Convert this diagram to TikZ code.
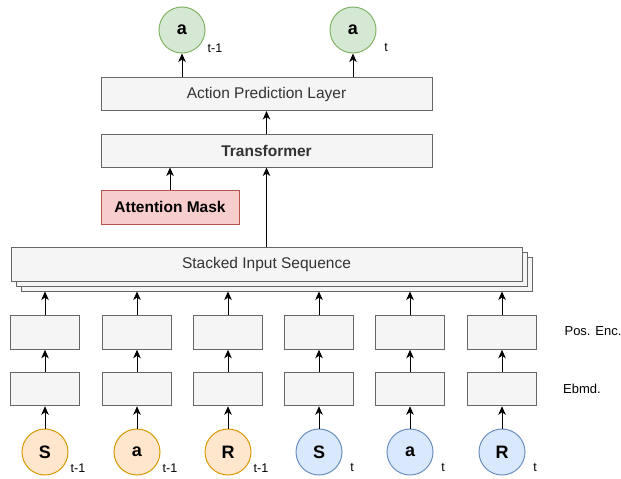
\documentclass[tikz,border=0pt]{standalone}
\usepackage{fontspec}
\setmainfont{Liberation Sans}
\usetikzlibrary{arrows.meta,positioning,shadows}
\definecolor{gfill}{HTML}{F5F5F5}
\definecolor{gline}{HTML}{666666}
\definecolor{gtext}{HTML}{333333}
\definecolor{rfill}{HTML}{F8CECC}
\definecolor{rline}{HTML}{B85450}
\definecolor{tfill}{HTML}{D5E8D4}
\definecolor{tline}{HTML}{82B366}
\definecolor{ofill}{HTML}{FFE6CC}
\definecolor{oline}{HTML}{D79B00}
\definecolor{bfill}{HTML}{DAE8FC}
\definecolor{bline}{HTML}{6C8EBF}
\begin{document}
\begin{tikzpicture}[x=1pt,y=-1pt,
 layer/.style={draw=gline,fill=gfill,text=gtext,line width=1pt,minimum height=33pt,inner sep=0pt,font=\fontsize{15.5}{18}\selectfont},
 boldtxt/.style={font=\fontsize{15.5}{18}\selectfont\bfseries},
 cell/.style={draw=gline,fill=gfill,line width=1pt,minimum width=69pt,minimum height=33.5pt,inner sep=0pt},
 tok/.style={circle,line width=1pt,minimum size=46pt,inner sep=0pt,font=\fontsize{18}{21}\selectfont\bfseries},
 idx/.style={inner sep=0pt,font=\fontsize{12.5}{14}\selectfont},
 side/.style={inner sep=0pt,font=\fontsize{13}{15}\selectfont},
 arr/.style={-{Stealth[length=8.5pt,width=7.5pt,inset=2.5pt]},line width=1pt}]
 \useasboundingbox (0,0) rectangle (621,479);
 \node[layer,minimum width=331pt] (apl) at (266.5,94) {Action Prediction Layer};
 \node[layer,minimum width=331pt,boldtxt] (trf) at (266.5,150.5) {Transformer};
 \node[layer,draw=rline,fill=rfill,text=black,minimum width=138pt,minimum height=34pt,boldtxt] (msk) at (170,207) {Attention Mask};
 \node[layer,minimum width=511pt,minimum height=34pt,
   double copy shadow={shadow xshift=5pt,shadow yshift=-5pt,fill=gfill,draw=gline,line width=1pt}] (stk) at (266.5,264) {Stacked Input Sequence};
 \node[tok,fill=tfill,draw=tline] (out1) at (182,30) {a};
 \node[tok,fill=tfill,draw=tline] (out2) at (353,30) {a};
 \node[idx] (to1) at (215,48) {t-1};
 \node[idx] (to2) at (386,48) {t};
 \draw[arr] (out1 |- apl.north) -- (out1);
 \draw[arr] (out2 |- apl.north) -- (out2);
 \draw[arr] (trf) -- (apl);
 \draw[arr] (msk) -- (msk |- trf.south);
 \draw[arr] (stk) -- (trf);
 \foreach \i/\x/\s/\cf/\cl/\t in {1/45/S/ofill/oline/t-1,2/137/a/ofill/oline/t-1,3/228/R/ofill/oline/t-1,
   4/319/S/bfill/bline/t,5/410/a/bfill/bline/t,6/502/R/bfill/bline/t}{
  \node[tok,fill=\cf,draw=\cl] (in\i) at (\x,452) {\s};
  \node[idx] (ti\i) at (\x+33,468) {\t};
  \node[cell] (em\i) at (\x,389) {};
  \node[cell] (pe\i) at (\x,332.5) {};
  \draw[arr] (in\i) -- (em\i);
  \draw[arr] (em\i) -- (pe\i);
  \draw[arr] (pe\i) -- ([yshift=-10pt]stk.south -| pe\i.north);
 }
 \node[side] (pos) at (593,331) {Pos. Enc.};
 \node[side] (emb) at (582,389) {Ebmd.};
\end{tikzpicture}
\end{document}
